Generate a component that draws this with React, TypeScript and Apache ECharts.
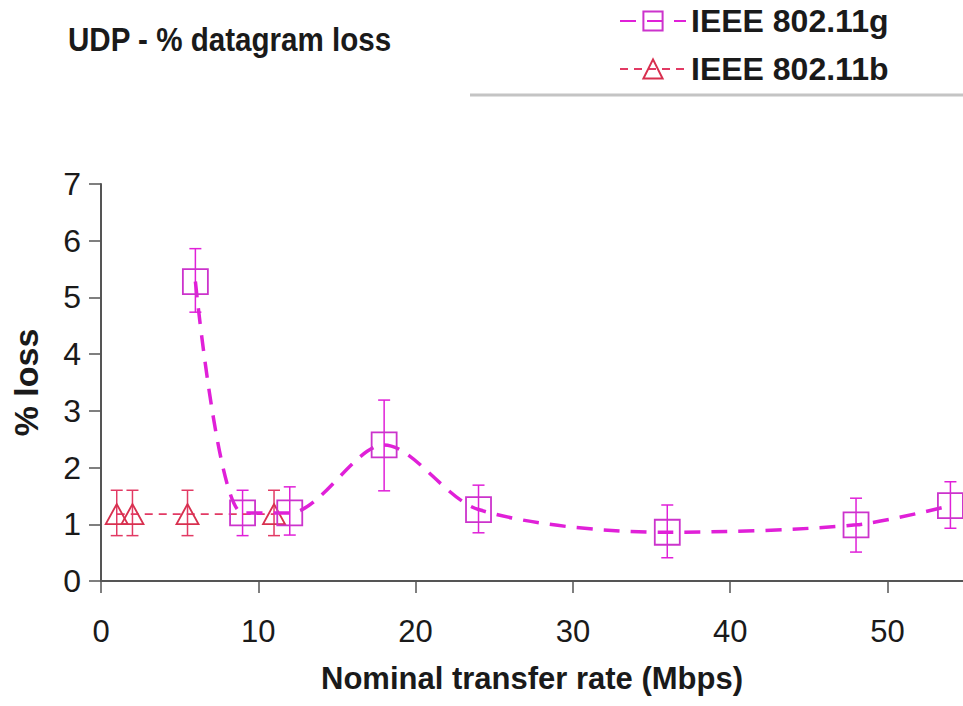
import React, { useEffect, useRef } from "react";
import * as echarts from "echarts";

const gRates = [6, 9, 12, 18, 24, 36, 48, 54];
const gLoss = [5.28, 1.2, 1.2, 2.4, 1.26, 0.86, 0.99, 1.33];
const gLow = [4.74, 0.8, 0.81, 1.59, 0.85, 0.41, 0.51, 0.93];
const gHigh = [5.86, 1.6, 1.66, 3.19, 1.69, 1.34, 1.46, 1.75];

const bRates = [1, 2, 5.5, 11];
const bLoss = [1.18, 1.18, 1.18, 1.18];
const bLow = [0.8, 0.8, 0.8, 0.8];
const bHigh = [1.6, 1.6, 1.6, 1.6];

const xTicks = [0, 10, 20, 30, 40, 50];
const yTicks = [0, 1, 2, 3, 4, 5, 6, 7];

const FONT = "'Liberation Sans', Arial, sans-serif";
const G_COLOR = "#e020d8";
const B_COLOR = "#e23a64";

function errorBars(color: string, capHalf: number) {
  return (params: any, api: any) => {
    const x = api.value(0);
    const top = api.coord([x, api.value(2)]);
    const bot = api.coord([x, api.value(1)]);
    const style = { stroke: color, lineWidth: 1.5 };
    return {
      type: "group",
      children: [
        { type: "line", shape: { x1: top[0], y1: top[1], x2: bot[0], y2: bot[1] }, style },
        { type: "line", shape: { x1: top[0] - capHalf, y1: top[1], x2: top[0] + capHalf, y2: top[1] }, style },
        { type: "line", shape: { x1: bot[0] - capHalf, y1: bot[1], x2: bot[0] + capHalf, y2: bot[1] }, style },
      ],
    };
  };
}

export default function App() {
  const ref = useRef<HTMLDivElement>(null);
  useEffect(() => {
    if (!ref.current) return;
    const chart = echarts.init(ref.current, null, { renderer: "svg" });
    const option = {
      animation: false,
      backgroundColor: "#ffffff",
      legend: {
        data: ["IEEE 802.11g", "IEEE 802.11b"],
        orient: "vertical",
        left: 614,
        top: -2,
        itemWidth: 66,
        itemHeight: 24,
        itemGap: 12,
        textStyle: { fontFamily: FONT, fontSize: 32, fontWeight: "bold", color: "#1a1a1a", lineHeight: 36 },
      },
      graphic: [
        {
          type: "text",
          x: 68,
          y: 22,
          scaleX: 0.87,
          style: {
            text: "UDP - % datagram loss",
            fontFamily: FONT,
            fontSize: 34,
            fontWeight: "bold",
            fill: "#1a1a1a",
          },
        },
        { type: "line", shape: { x1: 470, y1: 95, x2: 963, y2: 95 }, style: { stroke: "#c4c4c4", lineWidth: 3 } },
      ],
      grid: { left: 101, right: 0, top: 184, bottom: 125, containLabel: false },
      xAxis: {
        type: "value",
        min: 0,
        max: 54.8,
        interval: 10,
        name: "Nominal transfer rate (Mbps)",
        nameLocation: "middle",
        nameGap: 82,
        nameTextStyle: { fontFamily: FONT, fontSize: 31, fontWeight: "bold", color: "#1a1a1a" },
        axisLine: { onZero: false, lineStyle: { color: "#555", width: 2 } },
        axisTick: { show: true, length: 12, customValues: xTicks, lineStyle: { color: "#555", width: 1.5 } },
        axisLabel: { customValues: xTicks, margin: 35, fontFamily: FONT, fontSize: 31, color: "#1a1a1a" },
        splitLine: { show: false },
      },
      yAxis: {
        type: "value",
        min: 0,
        max: 7,
        interval: 1,
        name: "% loss",
        nameLocation: "middle",
        nameRotate: 90,
        nameGap: 58,
        nameTextStyle: { fontFamily: FONT, fontSize: 34, fontWeight: "bold", color: "#1a1a1a" },
        axisLine: { show: true, lineStyle: { color: "#555", width: 2 } },
        axisTick: { show: true, length: 12, customValues: yTicks, lineStyle: { color: "#555", width: 1.5 } },
        axisLabel: { customValues: yTicks, margin: 20, fontFamily: FONT, fontSize: 32, color: "#1a1a1a" },
        splitLine: { show: false },
      },
      series: [
        {
          type: "custom",
          renderItem: errorBars(G_COLOR, 6),
          data: gRates.map((x, i) => [x, gLow[i], gHigh[i]]),
          encode: { x: 0, y: [1, 2] },
          z: 1,
          silent: true,
        },
        {
          type: "custom",
          renderItem: errorBars(B_COLOR, 6),
          data: bRates.map((x, i) => [x, bLow[i], bHigh[i]]),
          encode: { x: 0, y: [1, 2] },
          z: 1,
          silent: true,
        },
        {
          name: "IEEE 802.11g",
          type: "line",
          data: gRates.map((x, i) => [x, gLoss[i]]),
          smooth: 0.3,
          symbol: "rect",
          symbolSize: 25,
          lineStyle: { color: G_COLOR, width: 3.5, type: [16, 11] },
          itemStyle: { color: "rgba(255,255,255,0)", borderColor: "#cc33cc", borderWidth: 1.8 },
          z: 3,
        },
        {
          name: "IEEE 802.11b",
          type: "line",
          data: bRates.map((x, i) => [x, bLoss[i]]),
          symbol: "triangle",
          symbolSize: [22, 20],
          lineStyle: { color: B_COLOR, width: 1.8, type: [8, 6] },
          itemStyle: { color: "rgba(255,255,255,0)", borderColor: "#d8304f", borderWidth: 1.8 },
          z: 2,
        },
      ],
    };
    chart.setOption(option as any);
    return () => chart.dispose();
  }, []);
  return (
    <div
      ref={ref}
      style={{ position: "fixed", left: 0, top: 0, width: 963, height: 706, background: "#fff" }}
    />
  );
}
